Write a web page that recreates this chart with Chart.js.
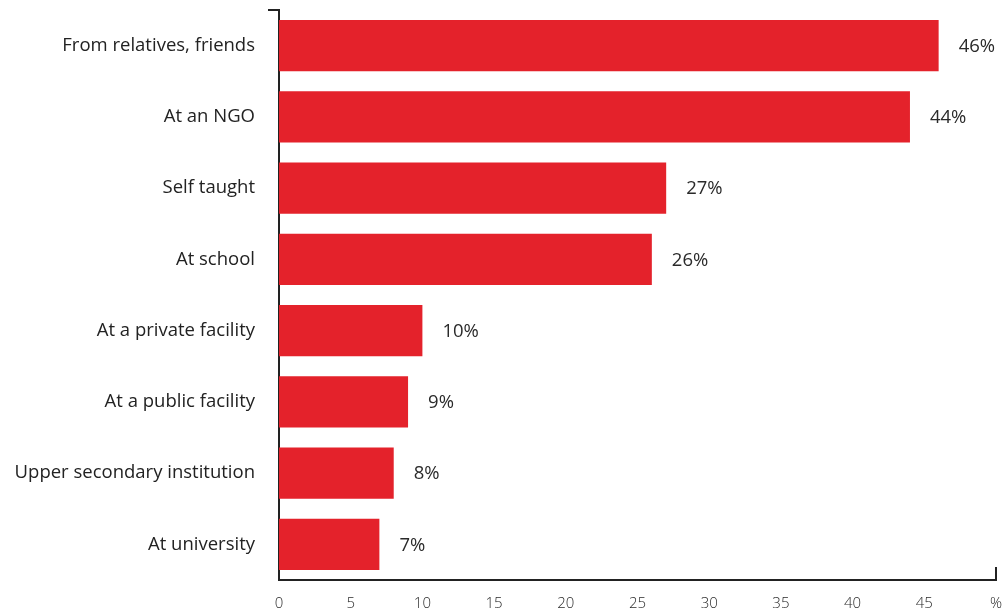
<!DOCTYPE html>
<html>
<head>
<meta charset="utf-8">
<script src="https://cdn.jsdelivr.net/npm/chart.js@4"></script>
<style>
  html, body { margin: 0; padding: 0; background: #fff; }
  #chart { display: block; }
</style>
</head>
<body>
<canvas id="chart" width="1003" height="611"></canvas>
<script>
const categories = [
    'From relatives, friends',
    'At an NGO',
    'Self taught',
    'At school',
    'At a private facility',
    'At a public facility',
    'Upper secondary institution',
    'At university'
];
const shares = [46, 44, 27, 26, 10, 9, 8, 7];
const axisMax = 50;
const axisStep = 5;

const barRed = '#e4222b';
const inkDark = '#222222';
const fontFamily = '"Open Sans", Lato, sans-serif';

// value labels to the right of each bar, plus the small end ticks on both axes
const extras = {
    id: 'extras',
    afterDatasetsDraw(chart) {
        const ctx = chart.ctx;
        const meta = chart.getDatasetMeta(0);
        ctx.save();
        ctx.fillStyle = '#2a2a2a';
        ctx.font = '400 18.5px ' + fontFamily;
        ctx.textAlign = 'left';
        ctx.textBaseline = 'middle';
        meta.data.forEach((bar, i) => {
            ctx.fillText(shares[i] + '%', bar.x + 20, bar.y + 1);
        });

        const area = chart.chartArea;
        ctx.strokeStyle = inkDark;
        ctx.lineWidth = 2;
        ctx.beginPath();
        ctx.moveTo(area.left - 11, area.top);
        ctx.lineTo(area.left + 1, area.top);
        ctx.moveTo(area.right, area.bottom - 13);
        ctx.lineTo(area.right, area.bottom + 1);
        ctx.stroke();
        ctx.restore();
    }
};

new Chart(document.getElementById('chart').getContext('2d'), {
    type: 'bar',
    data: {
        labels: categories,
        datasets: [{
            data: shares,
            backgroundColor: barRed,
            borderWidth: 0,
            barPercentage: 1,
            categoryPercentage: 0.72
        }]
    },
    options: {
        indexAxis: 'y',
        responsive: false,
        animation: false,
        layout: { padding: { top: 10, right: 7, left: 0, bottom: 0 } },
        plugins: {
            legend: { display: false },
            tooltip: { enabled: false }
        },
        scales: {
            x: {
                min: 0,
                max: axisMax,
                grid: { display: false, drawTicks: false },
                border: { display: true, color: inkDark, width: 2 },
                ticks: {
                    stepSize: axisStep,
                    padding: 15,
                    color: '#2a2a2a',
                    font: { family: fontFamily, size: 15, weight: 300 },
                    callback: v => (v === axisMax ? '%' : v)
                },
                afterFit(scale) {
                    scale.height = 31;
                    scale.paddingLeft = 0;
                    scale.paddingRight = 0;
                }
            },
            y: {
                grid: { display: false, drawTicks: false },
                border: { display: true, color: inkDark, width: 2 },
                ticks: {
                    padding: 24,
                    color: inkDark,
                    font: { family: fontFamily, size: 18.5, weight: 400 }
                },
                afterFit(scale) {
                    scale.width = 279;
                    scale.paddingTop = 0;
                    scale.paddingBottom = 0;
                }
            }
        }
    },
    plugins: [extras]
});
</script>
</body>
</html>
